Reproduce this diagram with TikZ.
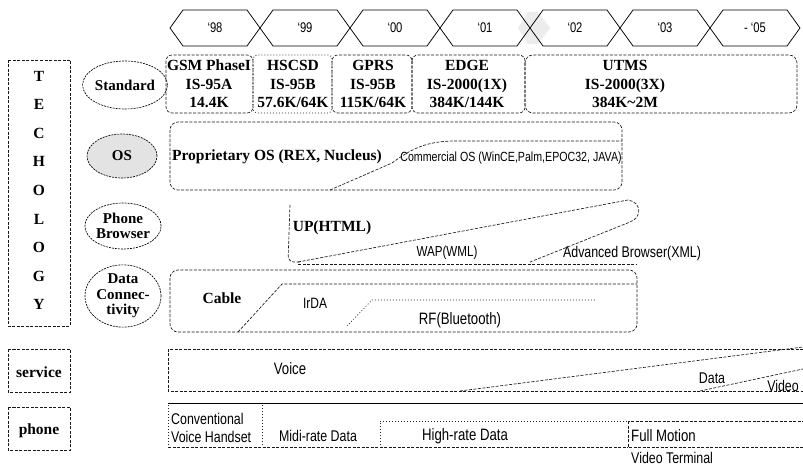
\documentclass[tikz,border=0pt]{standalone}
\usepackage{fontspec}
\setmainfont{Liberation Serif}
\setsansfont{Liberation Sans}
\newfontfamily\gul[FakeStretch=0.8]{Liberation Sans}
\usetikzlibrary{shapes.geometric}
\begin{document}
\begin{tikzpicture}[x=1pt,y=-1pt,
  ln/.style={line width=0.75pt, black},
  dl/.style={line width=0.65pt, black!90, dash pattern=on 3pt off 1.5pt},
  dt/.style={line width=0.65pt, black!85, dash pattern=on 1pt off 2pt},
  bf/.style={font=\fontsize{15.5}{18.5}\selectfont\bfseries, inner sep=0pt, align=center},
  sf/.style={font=\gul\fontsize{14.5}{16}\selectfont, inner sep=0pt, align=left},
  lab/.style={ellipse, draw, dash pattern=on 2pt off 1pt, line width=0.65pt, minimum width=76pt, minimum height=46pt, inner sep=0pt, align=center, font=\fontsize{15}{15.5}\selectfont\bfseries},
  yr/.style={font=\gul\fontsize{14}{16}\selectfont, inner sep=0pt},
]
\useasboundingbox (0,0) rectangle (803,470);
\fill[white] (0,0) rectangle (803,470);

% timeline hexagons
\fill[gray!15] (528,12) -- (538,12) -- (550,28) -- (538,44) -- (528,44) -- (518,28) -- cycle;
\foreach \c/\t [count=\i] in {215/‘98, 305/‘99, 395/‘00, 485/‘01, 575/‘02, 665/‘03, 755/{- ‘05}}{
  \draw[ln] ({\c-45},28) -- ({\c-32},10) -- ({\c+32},10) -- ({\c+45},28) -- ({\c+32},46) -- ({\c-32},46) -- cycle;
  \node[yr] (yr\i) at (\c,28) {\t};
}

% left boxes
\draw[dl] (8,60) rectangle (70,326);
\foreach \l [count=\i] in {T,E,C,H,O,L,O,G,Y}
  \node[bf] (tl\i) at (39,{76+(\i-1)*28.6}) {\l};
\draw[dl] (8,349) rectangle (70,392);
\node[bf] (svc) at (39,372) {service};
\draw[dl] (8,407) rectangle (70,450);
\node[bf] (phn) at (39,431) {phone};

% category ellipses
\node[lab, minimum height=48pt] (std) at (125,85) {Standard};
\node[lab, fill=gray!22, minimum width=70pt, minimum height=44pt] (os) at (122,156) {OS};
\node[lab, minimum width=74pt, minimum height=46pt] (pb) at (123,226) {Phone\\Browser};
\node[lab, minimum height=54pt] (dc) at (123,296) {Data\\Connec-\\tivity};

% Standard row
\draw[dl, rounded corners=6pt] (166,55) rectangle (253,113);
\draw[dt, rounded corners=4pt] (253,55) rectangle (332,113);
\draw[dl, rounded corners=6pt] (332,55) rectangle (412,113);
\draw[dl, rounded corners=6pt] (412,55) rectangle (525,113);
\draw[dl, rounded corners=8pt] (525,55) rectangle (797,113);
\node[bf] (gsm) at (209,84) {GSM PhaseI\\IS-95A\\14.4K};
\node[bf] (hscsd) at (293,84) {HSCSD\\IS-95B\\57.6K/64K};
\node[bf] (gprs) at (373,84) {GPRS\\IS-95B\\115K/64K};
\node[bf] (edge) at (467,84) {EDGE\\IS-2000(1X)\\384K/144K};
\node[bf] (utms) at (625,84) {UTMS\\IS-2000(3X)\\384K\textasciitilde2M};

% OS row
\draw[dl, rounded corners=8pt] (170,122) rectangle (622,190);
\draw[dl] (330,190) -- (392,163) .. controls (410,150) and (425,141) .. (455,141) -- (622,141);
\node[bf] (prop) at (277,157) {Proprietary OS (REX, Nucleus)};
\node[sf, font=\gul\fontsize{13.3}{15}\selectfont] (comm) at (511,158) {Commercial OS (WinCE,Palm,EPOC32, JAVA)};

% Browser row
\draw[dl, rounded corners=6pt] (290,205) -- (288,262) -- (300,262);
\draw[dl] (298,262) -- (628,200) .. controls (642,202) and (642,218) .. (630,222) -- (530,262);
\draw[dl] (298,264) -- (637,264);
\node[bf] (up) at (332,228) {UP(HTML)};
\node[sf] (wap) at (447,253) {WAP(WML)};
\node[sf, font=\gul\fontsize{15.5}{17}\selectfont] (adv) at (632,253) {Advanced Browser(XML)};

% Data connectivity row
\draw[dl, rounded corners=8pt] (170,270) rectangle (637,332);
\draw[dl] (238,332) -- (282,284) -- (637,284);
\draw[dt] (347,326) -- (372,300) -- (595,300);
\node[bf] (cable) at (222,298) {Cable};
\node[sf, font=\gul\fontsize{15}{17}\selectfont] (irda) at (315,303) {IrDA};
\node[sf, font=\gul\fontsize{16.5}{18}\selectfont] (rf) at (460,320) {RF(Bluetooth)};

% service row
\draw[dl] (803,349) -- (168,349) -- (168,391) -- (803,391);
\draw[dl] (460,391) -- (803,347);
\draw[dl] (700,391) -- (803,369);
\node[sf, font=\gul\fontsize{16.5}{18}\selectfont] (voice) at (290,369) {Voice};
\node[sf, font=\gul\fontsize{15.5}{17}\selectfont] (data) at (712,378) {Data};
\node[sf, font=\gul\fontsize{15.5}{17}\selectfont] (video) at (783,386) {Video};

% phone row
\draw[ln] (168,403) -- (803,403);
\draw[dt] (168,405) -- (168,447);
\draw[dt] (262,405) -- (262,447);
\draw[dt] (380,423) -- (380,447);
\draw[dt] (380,421) -- (628,421);
\draw[dl] (628,421) rectangle (803,447);
\draw[dl] (168,447) -- (628,447);
\node[sf, font=\gul\fontsize{15.5}{18}\selectfont, anchor=west] (conv) at (171,428) {Conventional\\Voice Handset};
\node[sf, font=\gul\fontsize{15.5}{17}\selectfont] (midi) at (318,436) {Midi-rate Data};
\node[sf, font=\gul\fontsize{16.5}{18}\selectfont] (high) at (465,436) {High-rate Data};
\node[sf, font=\gul\fontsize{16.5}{18}\selectfont, anchor=west] (full) at (631,436) {Full Motion};
\node[sf, font=\gul\fontsize{15.5}{17}\selectfont, anchor=west] (vterm) at (631,458) {Video Terminal};
\end{tikzpicture}
\end{document}
